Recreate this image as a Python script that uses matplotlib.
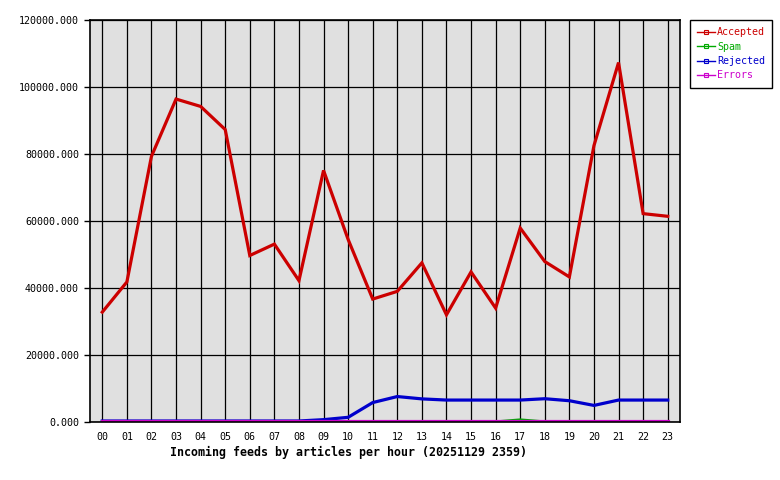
import numpy as np
import matplotlib.pyplot as plt
from matplotlib.lines import Line2D

hours = ['00', '01', '02', '03', '04', '05', '06', '07', '08', '09', '10', '11',
         '12', '13', '14', '15', '16', '17', '18', '19', '20', '21', '22', '23']

accepted = [32800, 41800, 79300, 96400, 94200, 87300, 49700, 53100, 42200, 75100, 54500, 36700,
            39000, 47500, 32000, 44800, 34000, 57900, 47900, 43300, 82500, 107300, 62200, 61400]
spam = [0, 0, 0, 0, 0, 0, 0, 0, 0, 0, 0, 0,
        0, 0, 0, 0, 0, 600, 0, 0, 0, 0, 0, 0]
rejected = [300, 300, 300, 300, 300, 300, 300, 300, 300, 700, 1400, 5800,
            7600, 6900, 6550, 6550, 6550, 6550, 6950, 6350, 4950, 6550, 6550, 6550]
errors = [300] * 24

series = [('Accepted', accepted, '#cc0000'),
          ('Spam', spam, '#00aa00'),
          ('Rejected', rejected, '#0000cc'),
          ('Errors', errors, '#cc00cc')]

mono = 'DejaVu Sans Mono'

fig = plt.figure(figsize=(7.8, 4.8), dpi=100)
ax = fig.add_axes([90/780, 58/480, 590/780, 402/480])
ax.set_facecolor('#e0e0e0')

x = np.arange(len(hours))
for name, vals, col in series:
    ax.plot(x, vals, color=col, lw=2.3, solid_joinstyle='miter', zorder=3)

ax.set_xlim(-0.5, 23.5)
ax.set_ylim(0, 120000)
ax.set_xticks(x)
ax.set_xticklabels(hours, fontfamily=mono, fontsize=7.2)
ax.set_yticks(np.arange(0, 120001, 20000))
ax.set_yticklabels([f'{v:.3f}' for v in np.arange(0, 120001, 20000)], fontfamily=mono, fontsize=7.2)
ax.tick_params(axis='x', length=0, pad=7)
ax.tick_params(axis='y', length=4, width=1, pad=4, direction='out')
ax.grid(True, color='black', lw=0.9, zorder=1)
ax.set_axisbelow(True)
for s in ax.spines.values():
    s.set_linewidth(1.2)
    s.set_zorder(4)

fig.text(348.5/780, 1 - 452/480, 'Incoming feeds by articles per hour (20251129 2359)',
         fontfamily=mono, fontweight='bold', fontsize=8.4, ha='center', va='center')

# legend with little square markers like the original
handles = [Line2D([0], [0], color=col, lw=1, marker='s', markersize=2.5,
                  mfc='none', mec=col, mew=0.8) for _, _, col in series]
leg = fig.legend(handles, [s[0] for s in series], loc='upper left',
                 bbox_to_anchor=(690/780, 1 - 20/480), bbox_transform=fig.transFigure,
                 prop={'family': mono, 'size': 7.2}, fancybox=False, edgecolor='black',
                 framealpha=1, handlelength=1.8, handletextpad=0.2, labelspacing=0.45,
                 borderpad=0.7, borderaxespad=0)
leg.get_frame().set_linewidth(1)
for t, (_, _, col) in zip(leg.get_texts(), series):
    t.set_color(col)

fig.savefig('out.png', dpi=100)
